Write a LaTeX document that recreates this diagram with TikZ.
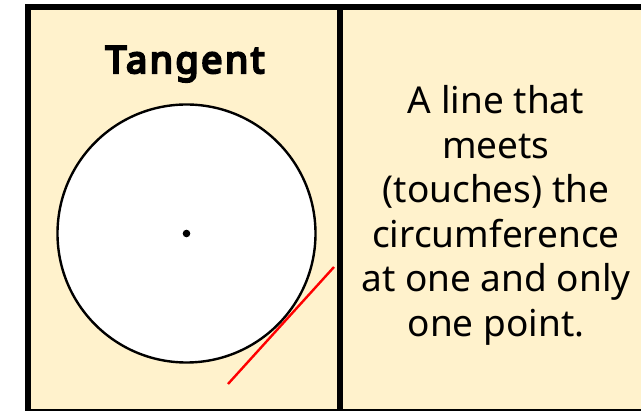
\documentclass[tikz,border=0pt]{standalone}
\usepackage{fontspec}
\setmainfont{Noto Sans}
\newfontfamily\titlefont{Noto Sans}[FakeBold=6,LetterSpace=7]
\definecolor{panel}{HTML}{FFF2CC}
\begin{document}
\begin{tikzpicture}[x=1pt,y=-1pt,
  frame/.style={line width=6pt,draw=black},
  titletext/.style={font=\titlefont\fontsize{37.5}{40}\selectfont,anchor=base},
  bodytext/.style={font=\fontsize{37}{44.5}\selectfont,align=center,anchor=north}]
\useasboundingbox (0,0) rectangle (641,411);
\begin{scope}
\clip (0,0) rectangle (641,411);
\fill[panel] (28,7) rectangle (645,412);
\draw[frame] (28,7) rectangle (645,412);
\draw[frame] (340,7) -- (340,412);
\end{scope}
\node[titletext] (title) at (185,73) {Tangent};
\node[circle,draw=black,line width=2.4pt,fill=white,minimum size=258pt,inner sep=0pt] (circ) at (186.5,233.5) {};
\fill[black] (circ.center) circle (3.8pt);
\coordinate (ta) at (228,384);
\coordinate (tb) at (334,267);
\draw[red,line width=2.4pt] (ta) -- (tb);
\node[bodytext] (body) at (496,82) {A line that\\meets\\(touches) the\\circumference\\at one and only\\one point.};
\end{tikzpicture}
\end{document}
